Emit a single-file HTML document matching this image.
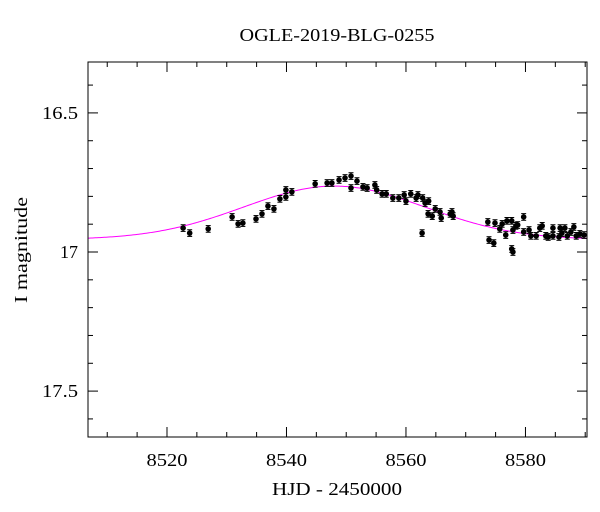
<!DOCTYPE html>
<html><head><meta charset="utf-8">
<style>
html,body{margin:0;padding:0;background:#fff;}
svg{display:block;font-family:"Liberation Serif",serif;}
</style></head>
<body>
<svg id="chart" width="600" height="512" viewBox="0 0 600 512">
<text x="337" y="41" text-anchor="middle" font-size="18" textLength="195" lengthAdjust="spacingAndGlyphs">OGLE-2019-BLG-0255</text>
<text x="337" y="495" text-anchor="middle" font-size="18" textLength="130" lengthAdjust="spacingAndGlyphs">HJD - 2450000</text>
<text transform="translate(27,250) rotate(-90)" text-anchor="middle" font-size="18" textLength="106" lengthAdjust="spacingAndGlyphs">I magnitude</text>
<g id="axes"></g>
<g id="model"></g>
<g id="pts"></g>
<rect x="88" y="62" width="499" height="375" fill="none" stroke="#000" stroke-width="1"/>
</svg>
<script>
const days=[8522.7,8523.8,8526.9,8530.9,8531.9,8532.7,8534.9,8535.9,8536.9,8537.9,8538.9,8539.9,8539.9,8540.9,8544.8,8546.8,8547.6,8548.8,8549.8,8550.8,8550.8,8551.8,8552.8,8553.5,8554.8,8555.1,8556.0,8556.7,8557.8,8558.8,8559.7,8560.0,8560.8,8561.7,8562.0,8562.7,8562.8,8563.2,8563.7,8563.8,8564.4,8564.9,8565.7,8565.9,8567.4,8567.7,8567.9,8573.7,8573.9,8574.7,8574.9,8575.7,8576.1,8576.7,8576.9,8577.7,8577.9,8577.7,8577.9,8578.4,8578.7,8579.7,8579.7,8580.6,8580.9,8581.8,8582.4,8582.8,8583.4,8583.8,8584.6,8584.6,8585.6,8585.8,8586.1,8586.6,8587.0,8587.6,8588.1,8588.5,8589.1,8589.8];
const mags=[16.914,16.932,16.917,16.874,16.899,16.896,16.881,16.863,16.835,16.845,16.809,16.802,16.777,16.784,16.755,16.752,16.752,16.741,16.734,16.727,16.770,16.745,16.766,16.770,16.759,16.777,16.791,16.791,16.806,16.806,16.795,16.817,16.791,16.806,16.795,16.932,16.806,16.824,16.863,16.817,16.871,16.845,16.856,16.878,16.863,16.856,16.871,16.892,16.957,16.968,16.896,16.917,16.899,16.939,16.888,16.888,16.921,16.989,17.000,16.906,16.903,16.874,16.928,16.921,16.942,16.942,16.914,16.906,16.942,16.946,16.914,16.942,16.946,16.914,16.932,16.914,16.942,16.928,16.910,16.942,16.935,16.939];
const errs=[0.012];
const xTicks=[8520,8540,8560,8580];
const yTicks=[16.5,17,17.5];
const modelBase=[16.955], modelPeak=[16.763], modelT0=[8548], modelSigma=[15.2];

const NS="http://www.w3.org/2000/svg";
const X0=88,X1=587,Y0=62,Y1=437;
const xMin=8506.78,xMax=8590.3,yMin=16.317,yMax=17.665;
const sx=d=>X0+(d-xMin)/(xMax-xMin)*(X1-X0);
const sy=m=>Y0+(m-yMin)/(yMax-yMin)*(Y1-Y0);
function mk(tag,attrs,parent){const e=document.createElementNS(NS,tag);for(const k in attrs)e.setAttribute(k,attrs[k]);parent.appendChild(e);return e;}
const ax=document.getElementById('axes');
for(let d=8510;d<=8590;d+=5){
  const major=(d%20===0);const L=major?10:5;const x=sx(d);
  const t1=mk('line',{x1:x,y1:Y1,x2:x,y2:Y1-L,stroke:'#000'},ax);
  
  
  const t2=mk('line',{x1:x,y1:Y0,x2:x,y2:Y0+L,stroke:'#000'},ax);
  
  
}
xTicks.forEach(d=>{
  const t=mk('text',{x:sx(d),y:Y1+29,'text-anchor':'middle','font-size':18,textLength:41,lengthAdjust:'spacingAndGlyphs'},ax);
  t.textContent=String(d);
  
  
});
for(let i=4;i<=16;i++){
  const v=16+i/10;const major=(i%5===0);const L=major?10:5;const y=sy(v);
  if(y<Y0||y>Y1)continue;
  const t1=mk('line',{x1:X0,y1:y,x2:X0+L,y2:y,stroke:'#000'},ax);
  
  
  const t2=mk('line',{x1:X1,y1:y,x2:X1-L,y2:y,stroke:'#000'},ax);
  
  
}
yTicks.forEach(v=>{
  const s=String(v);
  const attrs={x:78,y:sy(v)+6,'text-anchor':'end','font-size':18};
  if(s.length>2){attrs.textLength=36;attrs.lengthAdjust='spacingAndGlyphs';}
  const t=mk('text',attrs,ax);
  t.textContent=s;
  
  
});
let dpath='';
for(let d=xMin;d<=xMax;d+=0.25){
  const m=modelBase[0]-(modelBase[0]-modelPeak[0])*Math.exp(-Math.pow(d-modelT0[0],2)/(2*modelSigma[0]*modelSigma[0]));
  dpath+=(dpath?'L':'M')+sx(d).toFixed(2)+','+sy(m).toFixed(2);
}
const mp=mk('path',{d:dpath,fill:'none',stroke:'#ff00ff','stroke-width':1},document.getElementById('model'));


const pg=document.getElementById('pts');
days.forEach((d,i)=>{
  const x=sx(d),y=sy(mags[i]),e=errs[0];
  const g=mk('g',{},pg);
  
  
  mk('line',{x1:x,y1:sy(mags[i]-e),x2:x,y2:sy(mags[i]+e),stroke:'#000','stroke-width':1},g);
  mk('line',{x1:x-2.5,y1:sy(mags[i]-e),x2:x+2.5,y2:sy(mags[i]-e),stroke:'#000'},g);
  mk('line',{x1:x-2.5,y1:sy(mags[i]+e),x2:x+2.5,y2:sy(mags[i]+e),stroke:'#000'},g);
  mk('circle',{cx:x,cy:y,r:2.8,fill:'#000'},g);
});
</script>
</body></html>
